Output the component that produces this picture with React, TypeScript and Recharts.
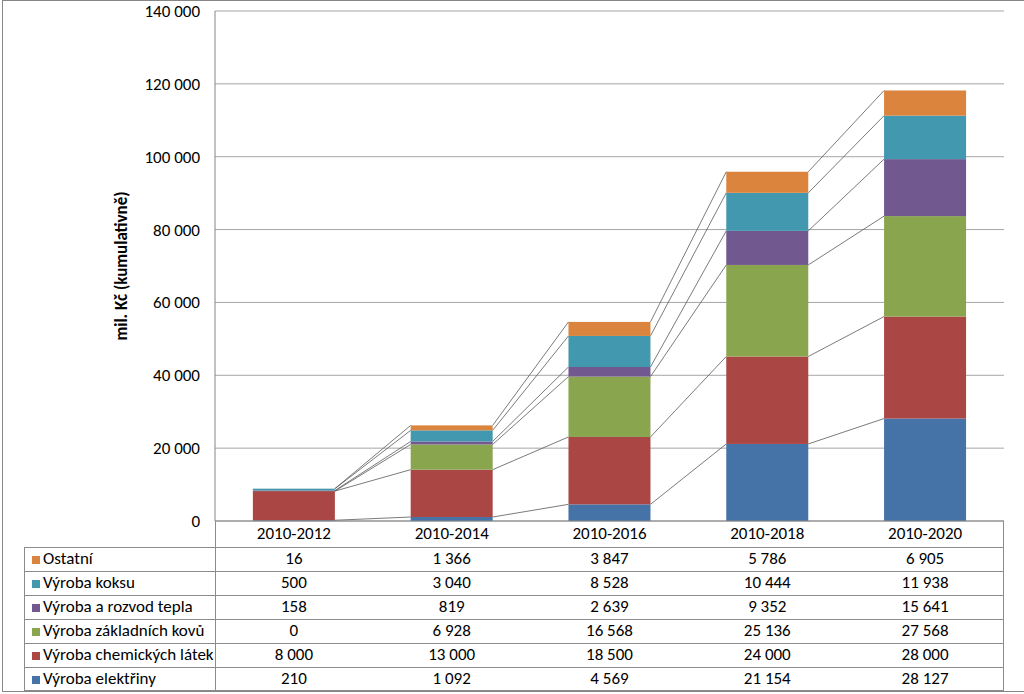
import { ComposedChart, Bar, XAxis, YAxis, CartesianGrid } from "recharts";

const periods = ["2010-2012", "2010-2014", "2010-2016", "2010-2018", "2010-2020"];
const elektriny = [210, 1092, 4569, 21154, 28127];
const chemicke = [8000, 13000, 18500, 24000, 28000];
const kovy = [0, 6928, 16568, 25136, 27568];
const teplo = [158, 819, 2639, 9352, 15641];
const koks = [500, 3040, 8528, 10444, 11938];
const ostatni = [16, 1366, 3847, 5786, 6905];
const yTicks = [0, 20000, 40000, 60000, 80000, 100000, 120000, 140000];

const series = [
  { key: "elektriny", name: "Výroba elektřiny", color: "#4572A7", values: elektriny },
  { key: "chemicke", name: "Výroba chemických látek", color: "#AA4643", values: chemicke },
  { key: "kovy", name: "Výroba základních kovů", color: "#89A54E", values: kovy },
  { key: "teplo", name: "Výroba a rozvod tepla", color: "#71588F", values: teplo },
  { key: "koks", name: "Výroba koksu", color: "#4198AF", values: koks },
  { key: "ostatni", name: "Ostatní", color: "#DB843D", values: ostatni },
];

const data = periods.map((p, i) => {
  const row: Record<string, string | number> = { period: p };
  series.forEach((s) => (row[s.key] = s.values[i]));
  return row;
});

const fmt = (v: number) => String(v).replace(/\B(?=(\d{3})+(?!\d))/g, " ");

// okraje segmentů, ze kterých se kreslí spojnice řad (jako v Excelu)
const edges: Record<string, { x1: number; x2: number; y: number }[]> = {};

function findEdge(si: number, index: number): { x1: number; x2: number; y: number } | undefined {
  for (let s = si; s >= 0; s--) {
    const e = edges[series[s].key]?.[index];
    if (e) return e;
  }
  return undefined;
}

function makeShape(si: number) {
  return (props: any) => {
    const { x, y, width, height, index, fill } = props;
    const key = series[si].key;
    (edges[key] ||= [])[index] = { x1: x, x2: x + width, y };
    const prev = index > 0 ? findEdge(si, index - 1) : undefined;
    return (
      <g>
        <rect x={x} y={y} width={width} height={Math.max(0, height)} fill={fill} />
        {prev && (
          <line x1={prev.x2} y1={prev.y} x2={x} y2={y} stroke="#595959" strokeWidth={0.8} />
        )}
      </g>
    );
  };
}

const W = 1024;
const H = 694;
const plotLeft = 215;
const plotRight = 1004;
const headerTop = 521;
const rowsTop = 547;
const rowH = 24;
const tableLeft = 24;
const colW = (plotRight - plotLeft) / periods.length;
const lineColor = "#8c8c8c";
const fontSize = 17;

export default function App() {
  const rows = [...series].reverse();
  return (
    <div
      style={{
        position: "relative",
        width: W,
        height: H,
        fontFamily: "Carlito, Lato, sans-serif",
        overflow: "hidden",
        background: "#fff",
      }}
    >
      <style>{`body{margin:0}`}</style>
      <ComposedChart
        width={W}
        height={H}
        data={data}
        margin={{ top: 11, right: W - plotRight, bottom: 147, left: 0 }}
        barCategoryGap="24%"
      >
        <CartesianGrid vertical={false} stroke="#a6a6a6" />
        <XAxis
          dataKey="period"
          height={26}
          interval={0}
          tickLine={false}
          tickSize={0}
          tickMargin={6}
          axisLine={{ stroke: "#868686" }}
          tick={{ fontSize, fill: "#000" }}
        />
        <YAxis
          width={plotLeft}
          domain={[0, 140000]}
          ticks={yTicks}
          tickFormatter={fmt}
          tickLine={false}
          tickSize={0}
          tickMargin={15}
          axisLine={{ stroke: "#868686" }}
          tick={{ fontSize, fill: "#000" }}
          label={{
            value: "mil. Kč (kumulativně)",
            angle: -90,
            position: "center",
            dx: 13,
            style: { fontSize, fontWeight: "bold", fill: "#000" },
          }}
        />
        {series.map((s, si) => (
          <Bar
            key={s.key}
            dataKey={s.key}
            name={s.name}
            stackId="a"
            fill={s.color}
            shape={makeShape(si)}
            isAnimationActive={false}
          />
        ))}
      </ComposedChart>

      {/* tabulka dat pod grafem */}
      <div
        style={{
          position: "absolute",
          left: plotLeft,
          top: headerTop,
          width: 0,
          height: rowsTop + rowH * rows.length - headerTop,
          borderLeft: `1px solid ${lineColor}`,
        }}
      />
      <div
        style={{
          position: "absolute",
          left: plotRight - 1,
          top: headerTop,
          width: 0,
          height: rowsTop + rowH * rows.length - headerTop,
          borderLeft: `1px solid ${lineColor}`,
        }}
      />
      <div
        style={{
          position: "absolute",
          left: tableLeft,
          top: rowsTop,
          width: 0,
          height: rowH * rows.length,
          borderLeft: `1px solid ${lineColor}`,
        }}
      />
      {rows.map((s, r) => (
        <div
          key={s.key}
          style={{
            position: "absolute",
            left: tableLeft,
            top: rowsTop + r * rowH,
            width: plotRight - tableLeft,
            height: rowH,
            borderTop: `1px solid ${lineColor}`,
            borderBottom: r === rows.length - 1 ? `1px solid ${lineColor}` : undefined,
            boxSizing: "border-box",
            fontSize,
            lineHeight: "22px",
            color: "#000",
          }}
        >
          <div
            style={{
              position: "absolute",
              left: 8,
              top: 8,
              width: 8,
              height: 8,
              background: s.color,
            }}
          />
          <div style={{ position: "absolute", left: 19, top: 0, whiteSpace: "nowrap" }}>{s.name}</div>
          {s.values.map((v, i) => (
            <div
              key={i}
              style={{
                position: "absolute",
                left: plotLeft - tableLeft + i * colW,
                width: colW,
                top: 0,
                textAlign: "center",
              }}
            >
              {fmt(v)}
            </div>
          ))}
        </div>
      ))}

      {/* rámeček grafu */}
      <div
        style={{
          position: "absolute",
          left: 2,
          top: 0,
          width: W + 10,
          height: H - 2,
          border: "1px solid #868686",
          boxSizing: "border-box",
          pointerEvents: "none",
        }}
      />
    </div>
  );
}
